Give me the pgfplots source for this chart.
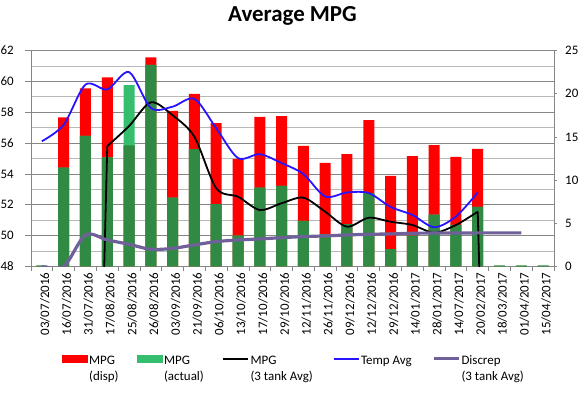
\documentclass[border=0pt]{standalone}
\usepackage{fontspec}
\setmainfont{Carlito}
\usepackage{pgfplots}
\usepackage{pgfplotstable}
\pgfplotsset{compat=1.18}
\definecolor{mpgred}{RGB}{255,0,0}
\definecolor{lgreen}{RGB}{52,190,110}
\definecolor{dgreen}{RGB}{48,138,68}
\definecolor{tblue}{RGB}{40,20,255}
\definecolor{dpurple}{RGB}{112,96,154}
\definecolor{gmajor}{RGB}{134,134,134}
\definecolor{gminor}{RGB}{185,185,185}

\pgfplotstableread{
i disp actual mn
0 0 0 48.08
1 57.67 54.40 54.40
2 59.55 56.46 56.46
3 60.26 55.08 55.08
4 55.85 59.76 55.85
5 61.56 61.06 61.06
6 58.08 52.46 52.46
7 59.18 55.60 55.60
8 57.30 52.05 52.05
9 54.97 50.00 50.00
10 57.69 53.11 53.11
11 57.75 53.22 53.22
12 55.81 50.95 50.95
13 54.71 50.09 50.09
14 55.29 50.75 50.75
15 57.49 52.74 52.74
16 53.87 49.13 49.13
17 55.16 50.00 50.00
18 55.87 51.36 51.36
19 55.10 50.69 50.69
20 55.62 51.86 51.86
21 0 0 48.08
22 0 0 48.08
23 0 0 48.08
}\mpgdata

\pgfplotstableread{
i tank
3 55.8
4 57.1
5 58.64
6 57.8
7 56.4
8 53.07
9 52.52
10 51.66
11 52.10
12 52.46
13 51.55
14 50.58
15 51.16
16 50.90
17 50.69
18 50.19
19 50.69
20 51.55
}\tankdata

\pgfplotstableread{
i temp
0 14.5
1 16.4
2 21.06
3 20.5
4 22.5
5 18.35
6 18.5
7 19.4
8 16.0
9 12.55
10 13.0
11 11.97
12 10.7
13 8.1
14 8.57
15 8.5
16 6.9
17 5.97
18 4.55
19 5.78
20 8.57
}\tempdata

\pgfplotstableread{
i discrep
0 0
1 0
2 3.65
3 3.07
4 2.57
5 1.99
6 2.1
7 2.5
8 2.88
9 3.07
10 3.19
11 3.34
12 3.46
13 3.54
14 3.65
15 3.73
16 3.77
17 3.85
18 3.87
19 3.88
20 3.89
21 3.89
22 3.89
}\discdata

\begin{document}
\begin{tikzpicture}
\useasboundingbox (-31bp,-126.5bp) rectangle (554bp,266.5bp);
\pgfplotsset{
  common/.style={scale only axis, width=523bp, height=216bp,
    xmin=-0.5, xmax=23.5, at={(0,0)}, anchor=south west,
    tick label style={font=\fontsize{13}{15}\selectfont, black},
    /pgf/number format/assume math mode=true},
}
\begin{axis}[common,
  title={Average MPG},
  title style={font=\fontsize{23}{27}\selectfont\bfseries, at={(0.5,1)}, anchor=base, yshift=23.5bp},
  ymin=48, ymax=62, ytick={48,50,...,62}, minor ytick={49,51,...,61},
  axis x line*=bottom, axis y line*=left,
  axis line style={gmajor, line width=0.8bp},
  ymajorgrids, yminorgrids,
  major grid style={gmajor, line width=0.8bp},
  minor grid style={gminor, line width=0.8bp},
  xtick={0,...,23},
  xticklabels={03/07/2016,16/07/2016,31/07/2016,17/08/2016,25/08/2016,26/08/2016,03/09/2016,21/09/2016,06/10/2016,13/10/2016,17/10/2016,29/10/2016,12/11/2016,26/11/2016,09/12/2016,12/12/2016,29/12/2016,14/01/2017,28/01/2017,14/07/2017,20/02/2017,18/03/2017,01/04/2017,15/04/2017},
  xticklabel style={rotate=90, anchor=east, inner sep=0pt, yshift=-3bp},
  yticklabel style={anchor=east, inner sep=0pt, xshift=-11bp},
  tick align=outside,
  major tick length=6bp, minor tick length=5bp,
  major x tick style={draw=none},
  minor xtick={-0.5,0.5,...,23.5},
  minor x tick style={gmajor, line width=0.8bp},
  minor y tick style={draw=none},
  major y tick style={gmajor, line width=0.8bp},
]
\addplot[ybar, bar width=11bp, bar shift=0pt, fill=mpgred, draw=none] table[x=i, y=disp]{\mpgdata};
\addplot[ybar, bar width=11bp, bar shift=0pt, fill=lgreen, draw=none] table[x=i, y=actual]{\mpgdata};
\addplot[ybar, bar width=11bp, bar shift=0pt, fill=dgreen, draw=none] table[x=i, y=mn]{\mpgdata};
\addplot[black, line width=1.8bp, no markers] coordinates {(2,0) (3,55.8)};
\addplot[black, line width=1.8bp, smooth, no markers] table[x=i, y=tank]{\tankdata};
\addplot[black, line width=1.8bp, no markers] coordinates {(20,51.55) (21,0) (23,0)};
\end{axis}
\begin{axis}[common,
  ymin=0, ymax=25, ytick={0,5,...,25},
  axis y line*=right, axis x line=none,
  axis line style={gmajor, line width=0.8bp},
  tick align=outside, major tick length=3bp,
  ytick style={gmajor, line width=0.8bp},
  yticklabel style={anchor=west, inner sep=0pt, xshift=8bp},
  legend columns=5,
  legend style={at={(axis description cs:0.0593,-0.4005)}, anchor=north west,
    draw=none, fill=none, inner sep=0pt,
    font=\fontsize{13}{16}\selectfont,
    cells={anchor=west, align=left},
    nodes={inner xsep=1.5bp, inner ysep=0bp},
    column sep=0pt},
]
\addlegendimage{legend image code/.code={\fill[mpgred] (0bp,5.5bp) rectangle (25bp,12.5bp);}}
\addlegendentry{\makebox[46.5bp][l]{MPG\strut}\\(disp)\strut}
\addlegendimage{legend image code/.code={\fill[lgreen] (0bp,5.5bp) rectangle (25bp,12.5bp);}}
\addlegendentry{\makebox[56.5bp][l]{MPG\strut}\\(actual)\strut}
\addlegendimage{legend image code/.code={\draw[black, line width=2bp] (0bp,9bp) -- (25bp,9bp);}}
\addlegendentry{\makebox[80.5bp][l]{MPG\strut}\\(3 tank Avg)\strut}
\addlegendimage{legend image code/.code={\draw[tblue, line width=2bp] (0bp,9bp) -- (25bp,9bp);}}
\addlegendentry{\makebox[69.5bp][l]{Temp Avg\strut}\\\strut}
\addlegendimage{legend image code/.code={\draw[dpurple, line width=3bp] (0bp,9bp) -- (25bp,9bp);}}
\addlegendentry{Discrep\strut\\(3 tank Avg)\strut}
\addplot[tblue, line width=1.8bp, smooth, no markers, forget plot] table[x=i, y=temp]{\tempdata};
\addplot[dpurple, line width=3.2bp, smooth, no markers, forget plot] table[x=i, y=discrep]{\discdata};
\end{axis}
\end{tikzpicture}
\end{document}
